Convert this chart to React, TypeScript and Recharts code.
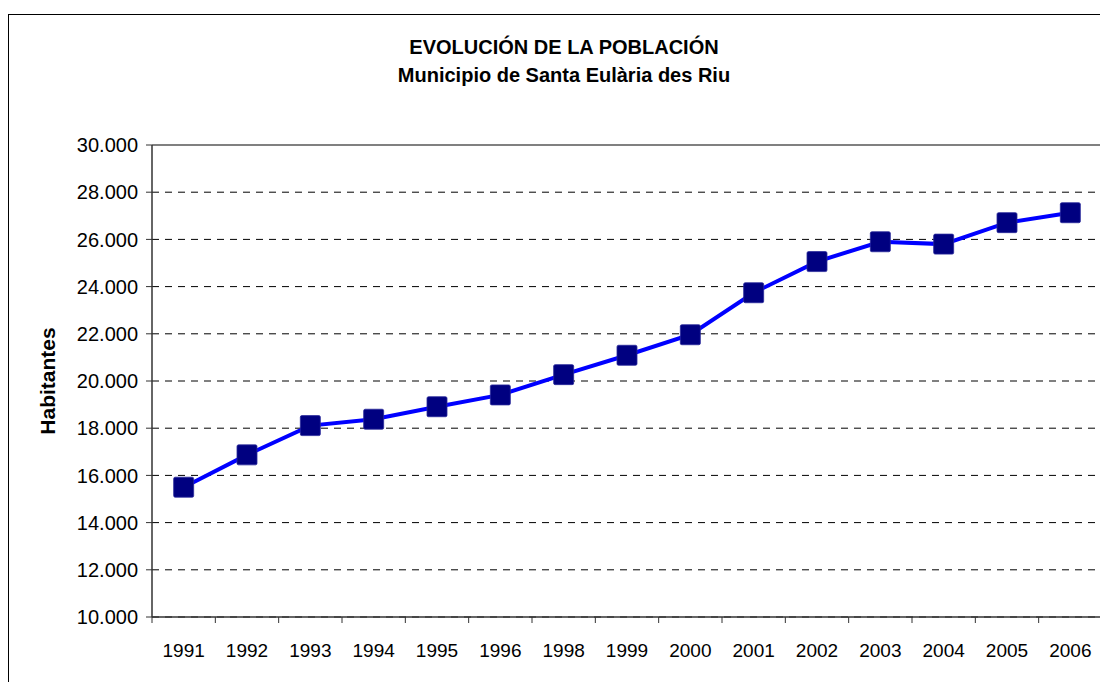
import { LineChart, Line, XAxis, YAxis, CartesianGrid, ReferenceLine } from 'recharts';

const years = ['1991', '1992', '1993', '1994', '1995', '1996', '1998', '1999', '2000', '2001', '2002', '2003', '2004', '2005', '2006'];
const habitantes = [15500, 16870, 18110, 18380, 18910, 19410, 20270, 21090, 21960, 23740, 25060, 25900, 25800, 26710, 27130];
const yTicks = [10000, 12000, 14000, 16000, 18000, 20000, 22000, 24000, 26000, 28000, 30000];

const data = years.map((year, i) => ({ year, habitantes: habitantes[i] }));

const W = 1100;
const H = 674;
const PLOT_LEFT = 144;
const PLOT_RIGHT = 1094;
const PLOT_TOP = 137;
const PLOT_BOTTOM = 609;
const BAND = (PLOT_RIGHT - PLOT_LEFT) / years.length;
const FONT = '"Liberation Sans", Arial, sans-serif';

const fmt = (v: number) => String(v).replace(/\B(?=(\d{3})+(?!\d))/g, '.');

// category axis with tick marks between the categories, like Excel
const YearTick = (props: any) => {
  const { x, y, payload, index } = props;
  const left = x - BAND / 2;
  const right = x + BAND / 2;
  return (
    <g>
      <line x1={left} y1={PLOT_BOTTOM} x2={left} y2={PLOT_BOTTOM + 6} stroke="#333" />
      {index === years.length - 1 && (
        <>
          <line x1={right} y1={PLOT_BOTTOM} x2={right} y2={PLOT_BOTTOM + 6} stroke="#333" />
          {/* right edge of the plot area */}
          <line x1={right} y1={PLOT_TOP} x2={right} y2={PLOT_BOTTOM} stroke="#808080" strokeWidth={2} />
        </>
      )}
      <text x={x} y={y} dy="0.71em" textAnchor="middle" fontSize={19} fontFamily={FONT} fill="#000">
        {payload.value}
      </text>
    </g>
  );
};

const SquareDot = (props: any) => {
  const { cx, cy } = props;
  if (cx == null || cy == null) return null;
  return <rect x={cx - 10} y={cy - 10} width={20} height={20} rx={1.5} fill="#000080" stroke="#2a2a9a" strokeWidth={0.8} />;
};

export default function App() {
  return (
    <div style={{ position: 'relative', width: W, height: H, overflow: 'hidden', fontFamily: FONT, background: '#fff' }}>
      <div style={{ position: 'absolute', left: 0, top: 6, width: 1130, height: 700, border: '1px solid #000', boxSizing: 'border-box' }} />
      <div style={{ position: 'absolute', left: 0, top: 25, width: 1112, textAlign: 'center', fontWeight: 'bold', fontSize: 20, lineHeight: '28px', color: '#000' }}>
        <div>EVOLUCIÓN DE LA POBLACIÓN</div>
        <div>Municipio de Santa Eulària des Riu</div>
      </div>
      <div style={{ position: 'absolute', left: 0, top: 0 }}>
        <LineChart
          width={W}
          height={H}
          data={data}
          margin={{ top: PLOT_TOP, right: W - PLOT_RIGHT, left: PLOT_LEFT - 100, bottom: H - PLOT_BOTTOM - 30 }}
        >
          <CartesianGrid vertical={false} stroke="#000" strokeDasharray="7 6" />
          <ReferenceLine y={30000} stroke="#808080" strokeWidth={2} ifOverflow="visible" />
          <XAxis
            dataKey="year"
            height={30}
            padding={{ left: BAND / 2, right: BAND / 2 }}
            tickLine={false}
            tickSize={6}
            tickMargin={21}
            axisLine={{ stroke: '#333', strokeWidth: 1.5 }}
            tick={<YearTick />}
            interval={0}
          />
          <YAxis
            width={100}
            domain={[10000, 30000]}
            ticks={yTicks}
            interval={0}
            tickFormatter={fmt}
            tickSize={6}
            tickMargin={8}
            tickLine={{ stroke: '#333' }}
            axisLine={{ stroke: '#333', strokeWidth: 1.5 }}
            tick={{ fontSize: 20, fontFamily: FONT, fill: '#000' }}
            label={() => (
              <text
                x={39}
                y={(PLOT_TOP + PLOT_BOTTOM) / 2}
                transform={`rotate(-90 39 ${(PLOT_TOP + PLOT_BOTTOM) / 2})`}
                textAnchor="middle"
                dominantBaseline="central"
                fontSize={21}
                fontWeight="bold"
                fontFamily={FONT}
                fill="#000"
              >
                Habitantes
              </text>
            )}
          />
          <Line
            dataKey="habitantes"
            stroke="#0000ff"
            strokeWidth={4}
            dot={<SquareDot />}
            activeDot={false}
            isAnimationActive={false}
          />
        </LineChart>
      </div>
    </div>
  );
}
